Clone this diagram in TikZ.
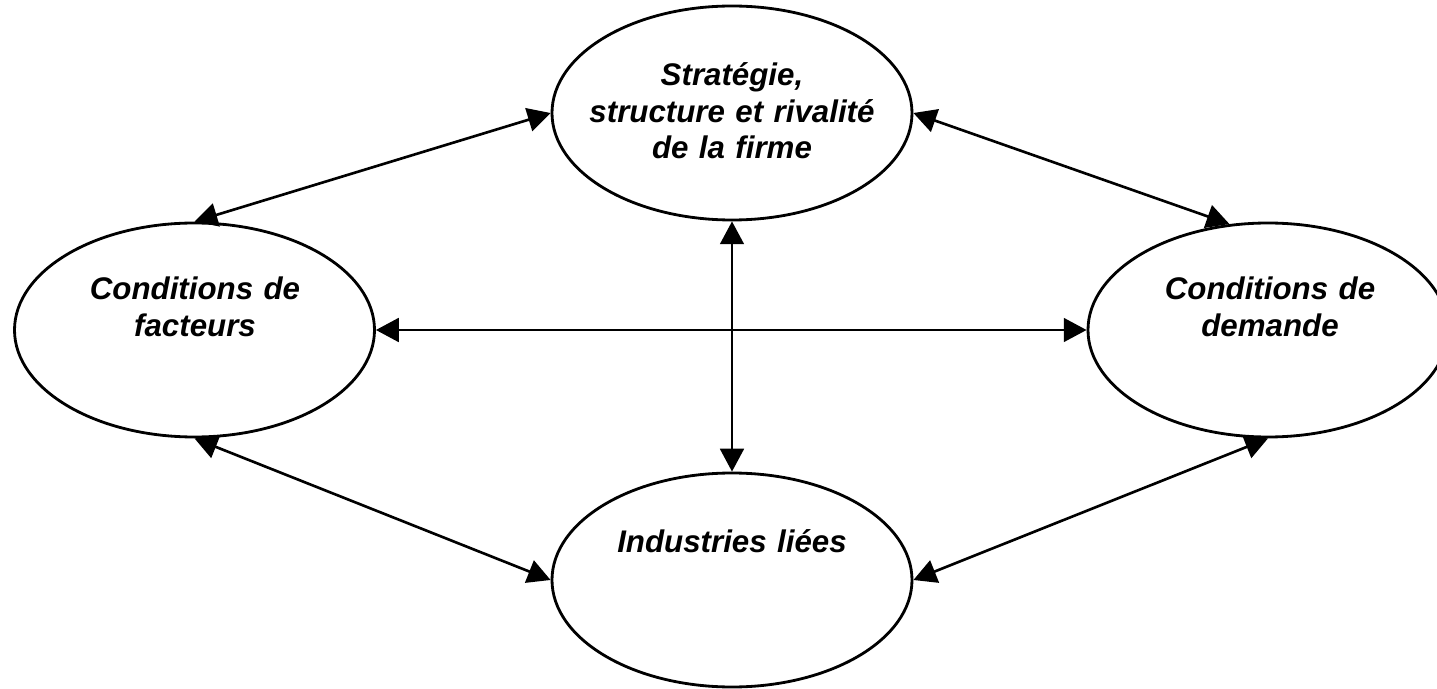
\documentclass[tikz,border=0pt]{standalone}
\usepackage{fontspec}
\setmainfont{Liberation Sans}
\usetikzlibrary{shapes.geometric,arrows.meta}

\begin{document}
\begin{tikzpicture}[
    pole/.style={draw, ellipse, line width=1.6pt, minimum width=7.2cm, minimum height=4.28cm, inner sep=0pt},
    legende/.style={anchor=base, align=center, text width=9cm, inner sep=0pt,
      font=\fontsize{17.8pt}{20.5pt}\selectfont\bfseries\itshape},
    lien/.style={{Triangle[length=13pt,width=13.5pt]}-{Triangle[length=13pt,width=13.5pt]}, line width=1.5pt}
  ]
    \useasboundingbox (0, 0) rectangle (28.74, 13.76);

    \node [pole] (firme) at (14.64, 11.5) {};
    \node [pole] (facteurs) at (3.89, 7.16) {};
    \node [pole] (demande) at (25.36, 7.16) {};
    \node [pole] (industries) at (14.64, 2.16) {};

    \node [legende] (firme-txt) at (14.64, 12.04) {Stratégie,\\structure et rivalité\\de la firme};
    \node [legende] (facteurs-txt) at (3.9, 7.76) {Conditions de\\facteurs};
    \node [legende] (demande-txt) at (25.4, 7.76) {Conditions de\\demande};
    \node [legende] (industries-txt) at (14.64, 2.72) {Industries liées};

    \draw [lien] (firme.west) -- (facteurs.north);
    \draw [lien] (firme.east) -- (demande.110);
    \draw [lien] (facteurs.east) -- (demande.west);
    \draw [lien] (firme.south) -- (industries.north);
    \draw [lien] (facteurs.south) -- (industries.west);
    \draw [lien] (industries.east) -- (demande.south);
  \end{tikzpicture}
\end{document}
